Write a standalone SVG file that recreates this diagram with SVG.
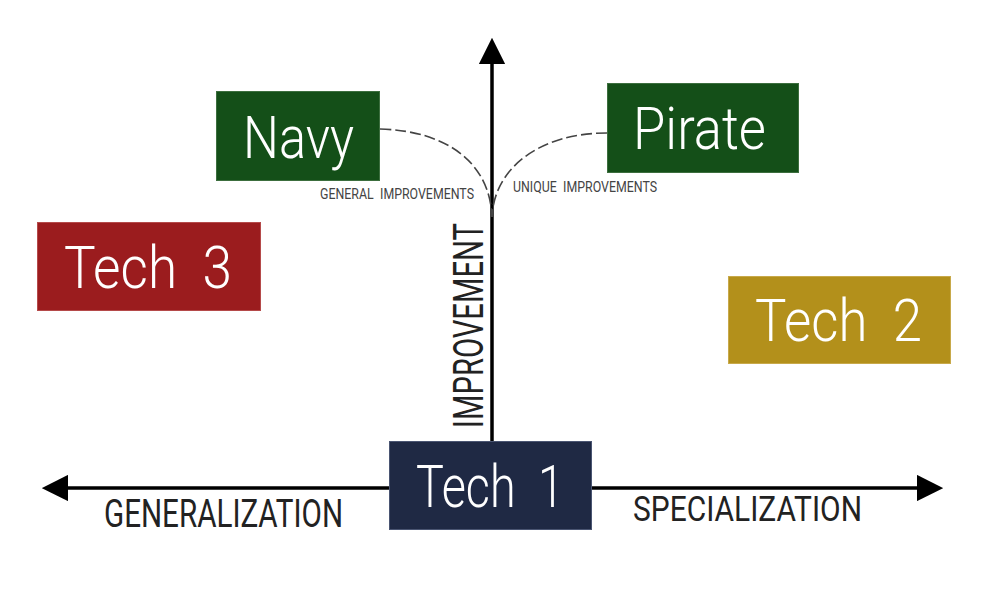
<svg xmlns="http://www.w3.org/2000/svg" width="989" height="600" viewBox="0 0 989 600">
<style>
.lbl{font-family:Roboto,"Liberation Sans",sans-serif;fill:#ffffff;font-size:59px;font-weight:300;word-spacing:14px}
.axis{font-family:Roboto,"Liberation Sans",sans-serif;fill:#222222;font-weight:400}
.small{font-family:Roboto,"Liberation Sans",sans-serif;fill:#444444;font-size:15px;word-spacing:4px}
.ax{stroke:#000;stroke-width:3.5;fill:none}
.dash{stroke:#444;stroke-width:1.6;fill:none;stroke-dasharray:11 4}
</style>
<defs>
<marker id="ah" viewBox="0 0 10 10" refX="0" refY="5" markerWidth="7.5" markerHeight="7.5" markerUnits="strokeWidth" orient="auto">
<path d="M0,0 L10,5 L0,10 Z" fill="#000"/>
</marker>
</defs>
<rect width="989" height="600" fill="#ffffff"/>
<g id="connectors">
<line class="ax" x1="390" y1="488" x2="68" y2="488" marker-end="url(#ah)"/>
<line class="ax" x1="592" y1="488" x2="917" y2="488" marker-end="url(#ah)"/>
<line class="ax" x1="492" y1="441" x2="492" y2="64" marker-end="url(#ah)"/>
<path class="dash" d="M380,129 C450,131 490,165 492,217"/>
<path class="dash" d="M607,133 C540,133 494,168 492,217"/>
<text class="small" x="320" y="199" textLength="154" lengthAdjust="spacingAndGlyphs">GENERAL IMPROVEMENTS</text>
<text class="small" x="513" y="192" textLength="144" lengthAdjust="spacingAndGlyphs">UNIQUE IMPROVEMENTS</text>
<text class="axis" x="104" y="527" font-size="38" textLength="239" lengthAdjust="spacingAndGlyphs">GENERALIZATION</text>
<text class="axis" x="633" y="521" font-size="35" textLength="229" lengthAdjust="spacingAndGlyphs">SPECIALIZATION</text>
<text class="axis" transform="translate(483,428) rotate(-90)" x="0" y="0" font-size="42" textLength="205" lengthAdjust="spacingAndGlyphs">IMPROVEMENT</text>
</g>
<g id="tech1">
<rect x="389.5" y="441.5" width="202" height="88" fill="#1f2944" stroke="#4a5572" stroke-width="1"/>
<text class="lbl" x="416" y="507" textLength="148" lengthAdjust="spacingAndGlyphs">Tech 1</text>
</g>
<g id="navy">
<rect x="216.5" y="91.5" width="163" height="89" fill="#144f18" stroke="#3c6e3e" stroke-width="1"/>
<text class="lbl" x="243" y="158" textLength="111" lengthAdjust="spacingAndGlyphs">Navy</text>
</g>
<g id="pirate">
<rect x="607.5" y="83.5" width="191" height="89" fill="#144f18" stroke="#3c6e3e" stroke-width="1"/>
<text class="lbl" x="633" y="149" textLength="133" lengthAdjust="spacingAndGlyphs">Pirate</text>
</g>
<g id="tech3">
<rect x="37.5" y="222.5" width="223" height="88" fill="#9b1c1e" stroke="#b54a4a" stroke-width="1"/>
<text class="lbl" x="64" y="288" textLength="168" lengthAdjust="spacingAndGlyphs">Tech 3</text>
</g>
<g id="tech2">
<rect x="728.5" y="276.5" width="222" height="87" fill="#b3901b" stroke="#c8a94a" stroke-width="1"/>
<text class="lbl" x="755" y="341" textLength="167" lengthAdjust="spacingAndGlyphs">Tech 2</text>
</g>
</svg>
